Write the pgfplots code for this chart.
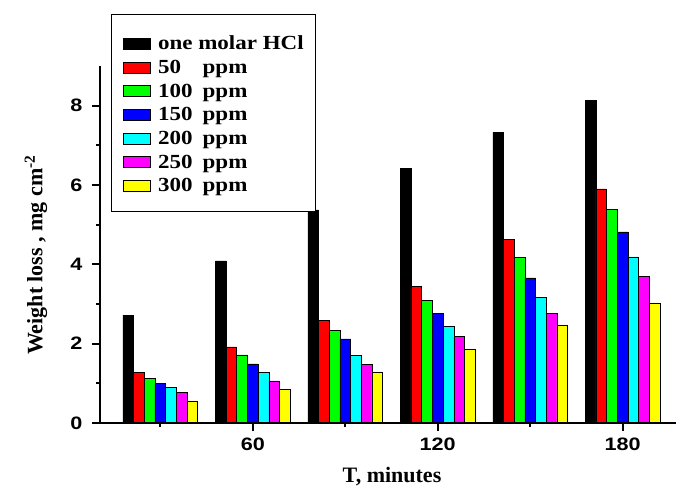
\documentclass[border=0pt]{standalone}
\usepackage{fontspec}
\setmainfont{Liberation Serif}
\newfontfamily\legfont[FakeStretch=1.15]{Liberation Serif}
\newfontfamily\tickfont[FakeStretch=1.2]{Liberation Sans}
\usepackage{pgfplots}
\usepackage{pgfplotstable}
\pgfplotsset{compat=1.18}

\definecolor{cRed}{RGB}{255,0,0}
\definecolor{cGreen}{RGB}{0,255,0}
\definecolor{cBlue}{RGB}{0,0,255}
\definecolor{cCyan}{RGB}{0,255,255}
\definecolor{cMag}{RGB}{255,0,255}
\definecolor{cYel}{RGB}{255,255,0}

% weight loss (mg cm^-2) vs time, one column per solution
\pgfplotstableread{
t    hcl   p50   p100  p150  p200  p250  p300
30   2.72  1.27  1.13  1.00  0.90  0.77  0.56
60   4.09  1.92  1.72  1.49  1.28  1.06  0.84
90   5.37  2.58  2.34  2.12  1.71  1.48  1.29
120  6.41  3.45  3.09  2.77  2.44  2.18  1.85
150  7.33  4.63  4.17  3.66  3.16  2.77  2.47
180  8.13  5.90  5.39  4.82  4.19  3.70  3.03
}\wl

\pgfplotsset{
  mybar/.style={draw=black, line width=0.5pt,
    legend image code/.code={\draw[##1, line width=0.6pt] (0pt,-7.5pt) rectangle (27pt,3.5pt);}},
}

\begin{document}
\begin{tikzpicture}
\path[use as bounding box] (0,0) rectangle (676pt,488pt);
\begin{axis}[
  at={(100pt,65pt)}, anchor=south west,
  scale only axis, width=576pt, height=357pt,
  xmin=10.44, xmax=197.3, ymin=0, ymax=9,
  axis x line=bottom, axis y line=left,
  axis line style={line width=2pt, -},
  axis on top,
  ybar=0pt, bar width=3.47,
  xtick={60,120,180}, minor xtick={30,90,150},
  ytick={0,2,4,6,8}, minor ytick={1,3,5,7},
  tick align=outside,
  major tick style={line width=2pt, black},
  minor tick style={line width=2pt, black},
  major tick length=8pt, minor tick length=4pt,
  ticklabel style={font=\tickfont\bfseries\fontsize{18}{18}\selectfont},
  /pgf/number format/assume math mode=true,
  xticklabel shift=3pt, yticklabel shift=6pt,
  xlabel={T, minutes},
  ylabel={Weight loss , mg cm\textsuperscript{-2}},
  label style={font=\bfseries\fontsize{22}{22}\selectfont},
  xlabel style={at={(axis description cs:0.507,-0.151)}, anchor=center},
  ylabel style={at={(axis description cs:-0.1111,0.4706)}, anchor=center},
  legend cell align=left,
  legend style={at={(axis description cs:0.0191,1.1457)}, anchor=north west,
    draw=black, line width=0.8pt, fill=white,
    font=\legfont\bfseries\fontsize{20}{20}\selectfont,
    inner xsep=11.7pt, inner ysep=14.3pt,
    row sep=-2.3pt, column sep=7.3pt,
    nodes={inner sep=0pt, text height=21pt, text depth=5pt}},
]
\addplot[mybar, fill=black] table[x=t, y=hcl] {\wl};
\addplot[mybar, fill=cRed] table[x=t, y=p50] {\wl};
\addplot[mybar, fill=cGreen] table[x=t, y=p100] {\wl};
\addplot[mybar, fill=cBlue] table[x=t, y=p150] {\wl};
\addplot[mybar, fill=cCyan] table[x=t, y=p200] {\wl};
\addplot[mybar, fill=cMag] table[x=t, y=p250] {\wl};
\addplot[mybar, fill=cYel] table[x=t, y=p300] {\wl};
\addlegendentry{one molar HCl}
\addlegendentry{\makebox[44.7pt][l]{50}ppm}
\addlegendentry{\makebox[44.7pt][l]{100}ppm}
\addlegendentry{\makebox[44.7pt][l]{150}ppm}
\addlegendentry{\makebox[44.7pt][l]{200}ppm}
\addlegendentry{\makebox[44.7pt][l]{250}ppm}
\addlegendentry{\makebox[44.7pt][l]{300}ppm}
\end{axis}
\end{tikzpicture}
\end{document}
